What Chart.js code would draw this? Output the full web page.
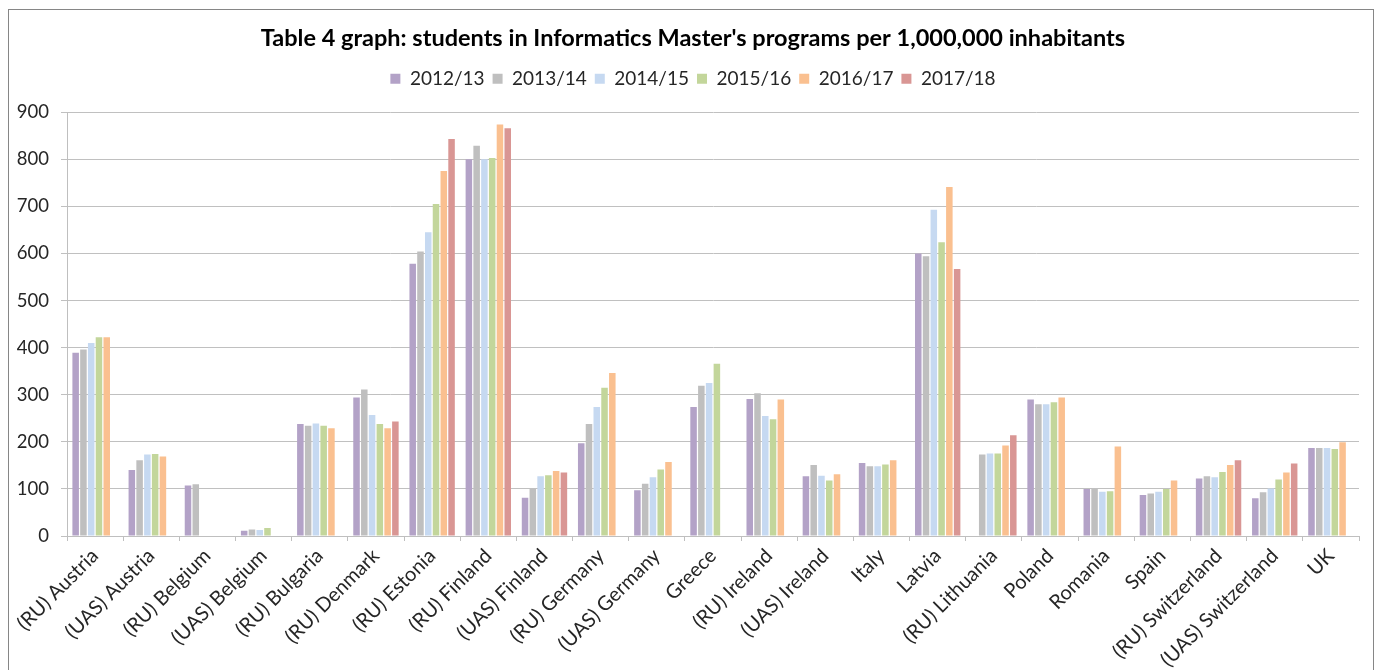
<!DOCTYPE html>
<html>
<head>
<meta charset="utf-8">
<title>Table 4 graph</title>
<script src="https://cdn.jsdelivr.net/npm/chart.js@4.4.1/dist/chart.umd.min.js"></script>
<style>
    html, body { margin: 0; padding: 0; background: #fff; overflow: hidden; }
    #wrap { position: relative; width: 1381px; height: 670px; }
    #frame {
        position: absolute; left: 8px; top: 9px; width: 1366px; height: 700px;
        border: 1px solid #868686; box-sizing: border-box; pointer-events: none;
    }
    canvas { position: absolute; left: 0; top: 0; }
</style>
</head>
<body>
<div id="wrap">
    <canvas id="chart" width="1381" height="670"></canvas>
    <div id="frame"></div>
</div>
<script>
// Data
const categories = [
    '(RU) Austria', '(UAS) Austria', '(RU) Belgium', '(UAS) Belgium', '(RU) Bulgaria',
    '(RU) Denmark', '(RU) Estonia', '(RU) Finland', '(UAS) Finland', '(RU) Germany',
    '(UAS) Germany', 'Greece', '(RU) Ireland', '(UAS) Ireland', 'Italy', 'Latvia',
    '(RU) Lithuania', 'Poland', 'Romania', 'Spain', '(RU) Switzerland',
    '(UAS) Switzerland', 'UK'
];

const years = ['2012/13', '2013/14', '2014/15', '2015/16', '2016/17', '2017/18'];

const y2012 = [389, 140, 107, 11, 238, 294, 578, 800, 81, 197, 97, 274, 291, 127, 155, 600, null, 290, 100, 87, 122, 80, 187];
const y2013 = [396, 161, 110, 14, 234, 311, 604, 829, 101, 238, 111, 319, 303, 151, 148, 594, 173, 280, 101, 90, 127, 93, 187];
const y2014 = [410, 173, null, 13, 239, 257, 645, 800, 127, 274, 125, 325, 255, 128, 148, 693, 175, 280, 94, 94, 125, 101, 187];
const y2015 = [422, 174, null, 17, 234, 238, 705, 803, 129, 315, 141, 366, 248, 118, 152, 624, 175, 284, 95, 100, 136, 120, 185];
const y2016 = [422, 169, null, null, 229, 229, 775, 874, 138, 346, 157, null, 290, 131, 161, 741, 192, 294, 190, 118, 151, 135, 199];
const y2017 = [null, null, null, null, null, 243, 843, 866, 135, null, null, null, null, null, null, 567, 214, null, null, null, 161, 154, null];

const yTicks = [0, 100, 200, 300, 400, 500, 600, 700, 800, 900];

const seriesValues = [y2012, y2013, y2014, y2015, y2016, y2017];
const seriesColors = ['#b3a2c7', '#bfbfbf', '#c6d9f1', '#c3d69b', '#fac090', '#d99694'];

const FONT = "Lato, 'Open Sans', sans-serif";

// more room under the legend, and title + legend centred on the whole frame
const headerTweak = {
    id: 'headerTweak',
    beforeInit(chart) {
        const fit = chart.legend.fit;
        chart.legend.fit = function() {
            fit.bind(chart.legend)();
            this.height += 14;
        };
    },
    afterLayout(chart) {
        [chart.titleBlock, chart.legend].forEach(box => {
            if (!box) return;
            box.left += 13.5;
            box.right += 13.5;
        });
    }
};

const ctx = document.getElementById('chart');

new Chart(ctx, {
    type: 'bar',
    data: {
        labels: categories,
        datasets: years.map((year, i) => ({
            label: year,
            data: seriesValues[i],
            backgroundColor: seriesColors[i],
            borderWidth: 0,
            categoryPercentage: 0.83,
            barPercentage: 0.84
        }))
    },
    plugins: [headerTweak],
    options: {
        responsive: false,
        animation: false,
        layout: {
            padding: { left: 0, right: 22, top: 0, bottom: 0 }
        },
        plugins: {
            title: {
                display: true,
                text: "Table 4 graph: students in Informatics Master's programs per 1,000,000 inhabitants",
                color: '#000',
                font: { family: FONT, size: 23.5, weight: 'bold' },
                padding: { top: 24, bottom: 9 }
            },
            legend: {
                position: 'top',
                labels: {
                    boxWidth: 10,
                    boxHeight: 10,
                    padding: 8,
                    color: '#262626',
                    font: { family: FONT, size: 19 }
                }
            },
            tooltip: { enabled: false }
        },
        scales: {
            x: {
                offset: true,
                grid: {
                    display: true,
                    drawOnChartArea: false,
                    offset: true,
                    tickLength: 5,
                    color: '#bfbfbf'
                },
                border: { color: '#bfbfbf' },
                ticks: {
                    autoSkip: false,
                    maxRotation: 45,
                    minRotation: 45,
                    color: '#262626',
                    font: { family: FONT, size: 20 }
                },
                afterFit: function(scale) {
                    scale.height = 134;
                }
            },
            y: {
                min: 0,
                max: 900,
                afterBuildTicks: function(scale) {
                    scale.ticks = yTicks.map(v => ({ value: v }));
                },
                grid: {
                    color: '#c0c0c0',
                    tickLength: 6
                },
                border: { color: '#bfbfbf' },
                ticks: {
                    padding: 12,
                    color: '#262626',
                    font: { family: FONT, size: 18.5 }
                },
                afterFit: function(scale) {
                    scale.width = 67;
                }
            }
        }
    }
});
</script>
</body>
</html>
